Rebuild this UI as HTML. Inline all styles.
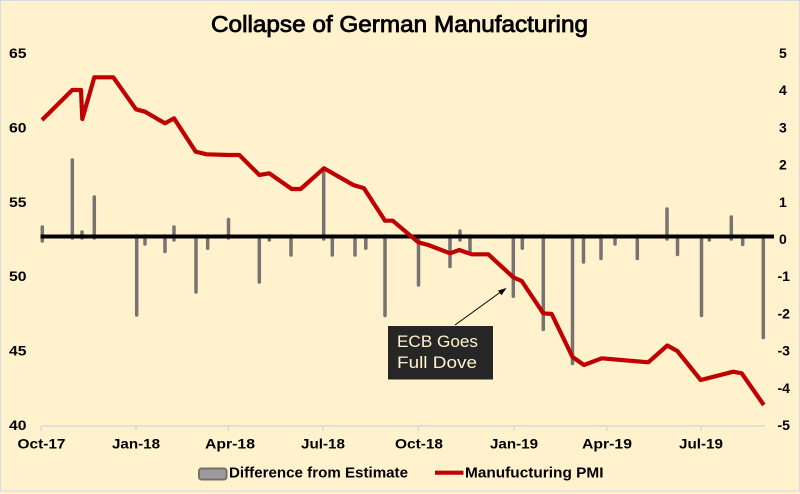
<!DOCTYPE html>
<html><head><meta charset="utf-8"><style>
html,body{margin:0;padding:0;background:#FFF2CC;}
svg{display:block;}
text{font-family:"Liberation Sans",sans-serif;fill:#000;}
.t{font-weight:bold;font-size:14px;}
</style></head><body>
<svg width="800" height="494" viewBox="0 0 800 494" xmlns="http://www.w3.org/2000/svg">
<rect x="0" y="0" width="800" height="494" fill="#FFF2CC"/>
<rect x="0.5" y="0.5" width="799" height="490.5" fill="none" stroke="#d6dbe0" stroke-width="1"/>
<text x="211" y="32" font-size="23" textLength="377" lengthAdjust="spacingAndGlyphs" stroke="#000" stroke-width="0.8">Collapse of German Manufacturing</text>
<g class="t">
<text x="9" y="58" textLength="17.5" lengthAdjust="spacingAndGlyphs">65</text>
<text x="9" y="132.4" textLength="17.5" lengthAdjust="spacingAndGlyphs">60</text>
<text x="9" y="206.8" textLength="17.5" lengthAdjust="spacingAndGlyphs">55</text>
<text x="9" y="281.2" textLength="17.5" lengthAdjust="spacingAndGlyphs">50</text>
<text x="9" y="355.6" textLength="17.5" lengthAdjust="spacingAndGlyphs">45</text>
<text x="9" y="430" textLength="17.5" lengthAdjust="spacingAndGlyphs">40</text>
<text x="779" y="58">5</text>
<text x="779" y="95.2">4</text>
<text x="779" y="132.4">3</text>
<text x="779" y="169.6">2</text>
<text x="779" y="206.8">1</text>
<text x="779" y="244">0</text>
<text x="777.5" y="281.2" textLength="12.5" lengthAdjust="spacingAndGlyphs">-1</text>
<text x="777.5" y="318.4" textLength="12.5" lengthAdjust="spacingAndGlyphs">-2</text>
<text x="777.5" y="355.6" textLength="12.5" lengthAdjust="spacingAndGlyphs">-3</text>
<text x="777.5" y="392.8" textLength="12.5" lengthAdjust="spacingAndGlyphs">-4</text>
<text x="777.5" y="430" textLength="12.5" lengthAdjust="spacingAndGlyphs">-5</text>
<g text-anchor="middle">
<text x="41.5" y="448.5" textLength="48" lengthAdjust="spacingAndGlyphs">Oct-17</text>
<text x="136" y="448.5" textLength="48" lengthAdjust="spacingAndGlyphs">Jan-18</text>
<text x="230" y="448.5" textLength="50" lengthAdjust="spacingAndGlyphs">Apr-18</text>
<text x="323" y="448.5" textLength="44" lengthAdjust="spacingAndGlyphs">Jul-18</text>
<text x="419" y="448.5" textLength="48" lengthAdjust="spacingAndGlyphs">Oct-18</text>
<text x="514" y="448.5" textLength="48" lengthAdjust="spacingAndGlyphs">Jan-19</text>
<text x="607" y="448.5" textLength="50" lengthAdjust="spacingAndGlyphs">Apr-19</text>
<text x="701" y="448.5" textLength="44" lengthAdjust="spacingAndGlyphs">Jul-19</text>
</g>
</g>
<!-- bottom axis -->
<g stroke="#d9d9d9" stroke-width="1.5">
<line x1="41" y1="426" x2="765" y2="426"/>
<line x1="41" y1="426" x2="41" y2="431"/>
<line x1="136" y1="426" x2="136" y2="431"/>
<line x1="228.5" y1="426" x2="228.5" y2="431"/>
<line x1="322.7" y1="426" x2="322.7" y2="431"/>
<line x1="418.5" y1="426" x2="418.5" y2="431"/>
<line x1="514.3" y1="426" x2="514.3" y2="431"/>
<line x1="606.7" y1="426" x2="606.7" y2="431"/>
<line x1="701" y1="426" x2="701" y2="431"/>
</g>
<!-- bars -->
<g stroke="#777373" stroke-width="3.5" stroke-linecap="round">
<line x1="42.3" y1="241" x2="42.3" y2="227"/>
<line x1="72.3" y1="238" x2="72.3" y2="160"/>
<line x1="82" y1="238" x2="82" y2="232"/>
<line x1="94.3" y1="238" x2="94.3" y2="197"/>
<line x1="136.7" y1="236" x2="136.7" y2="315"/>
<line x1="145" y1="236" x2="145" y2="244"/>
<line x1="165" y1="236" x2="165" y2="251.5"/>
<line x1="174" y1="240" x2="174" y2="227"/>
<line x1="196" y1="236" x2="196" y2="292"/>
<line x1="207.7" y1="236" x2="207.7" y2="248.3"/>
<line x1="228.5" y1="238" x2="228.5" y2="219.5"/>
<line x1="259.3" y1="236" x2="259.3" y2="282"/>
<line x1="269.3" y1="236" x2="269.3" y2="240"/>
<line x1="291" y1="236" x2="291" y2="255"/>
<line x1="323.7" y1="239" x2="323.7" y2="168.5"/>
<line x1="332.3" y1="236" x2="332.3" y2="255"/>
<line x1="355" y1="236" x2="355" y2="255"/>
<line x1="365.8" y1="236" x2="365.8" y2="248.3"/>
<line x1="385" y1="236" x2="385" y2="315.5"/>
<line x1="418.5" y1="236" x2="418.5" y2="285"/>
<line x1="450" y1="236" x2="450" y2="266.5"/>
<line x1="460" y1="240" x2="460" y2="231"/>
<line x1="470" y1="236" x2="470" y2="253.3"/>
<line x1="513.3" y1="236" x2="513.3" y2="296.3"/>
<line x1="522.3" y1="236" x2="522.3" y2="248.3"/>
<line x1="543.3" y1="236" x2="543.3" y2="329.5"/>
<line x1="572.5" y1="236" x2="572.5" y2="363.5"/>
<line x1="583.5" y1="236" x2="583.5" y2="262"/>
<line x1="601" y1="236" x2="601" y2="258.5"/>
<line x1="615" y1="236" x2="615" y2="244"/>
<line x1="637.3" y1="236" x2="637.3" y2="258.5"/>
<line x1="667" y1="239" x2="667" y2="209"/>
<line x1="677.5" y1="236" x2="677.5" y2="254.5"/>
<line x1="701.5" y1="236" x2="701.5" y2="315.5"/>
<line x1="709.3" y1="236" x2="709.3" y2="240"/>
<line x1="731.3" y1="239" x2="731.3" y2="217"/>
<line x1="742.7" y1="236" x2="742.7" y2="244.5"/>
<line x1="763.3" y1="236" x2="763.3" y2="337.5"/>
</g>
<!-- zero line -->
<line x1="40.5" y1="236.5" x2="774" y2="236.5" stroke="#000" stroke-width="4"/>
<!-- PMI line -->
<polyline fill="none" stroke="#C00000" stroke-width="4.2" stroke-linejoin="round" stroke-linecap="butt"
points="42,120 72.3,90 81,90 82.3,119 94.3,77.3 113.3,77.3 136,109.3 145,111.7 165,123.3 174,118.3 195.7,151.7 206.7,154.3 228.5,155 239.3,155 259.3,175 269.3,173.3 291.7,189 300.7,189 324,168.3 353.3,185 364,188.3 385,220.7 392.7,220.7 418.3,242.3 428.3,245 450,253.3 459.3,250 471.7,254.3 488.3,254.3 513.3,277.3 521.7,281 543.3,313.3 551.7,314 572.5,357 584,365 601.7,358.3 648.3,362.3 667.3,345.5 677.3,351 700.7,380 733.3,371.7 741.7,373.3 763.8,405"/>
<!-- annotation -->
<line x1="455" y1="325" x2="502" y2="291" stroke="#000" stroke-width="1"/>
<polygon points="506.5,288 498,290.5 501.5,295.2" fill="#000"/>
<rect x="388" y="326" width="105" height="53.5" fill="#262626"/>
<text x="397" y="347" font-size="17" fill="#FFF2CC" style="fill:#FFF2CC" textLength="81" lengthAdjust="spacingAndGlyphs">ECB Goes</text>
<text x="397" y="368" font-size="17" fill="#FFF2CC" style="fill:#FFF2CC" textLength="80" lengthAdjust="spacingAndGlyphs">Full Dove</text>
<!-- legend -->
<rect x="199" y="468.5" width="27.5" height="11" rx="2.5" fill="#9c9a9a" stroke="#737070" stroke-width="2"/>
<text x="229" y="477.3" font-size="14.5" font-weight="bold" textLength="179" lengthAdjust="spacingAndGlyphs">Difference from Estimate</text>
<line x1="435" y1="472.7" x2="463.5" y2="472.7" stroke="#C00000" stroke-width="4.2"/>
<text x="465" y="477.3" font-size="14.5" font-weight="bold" textLength="138.5" lengthAdjust="spacingAndGlyphs">Manufucturing PMI</text>
</svg>
</body></html>
